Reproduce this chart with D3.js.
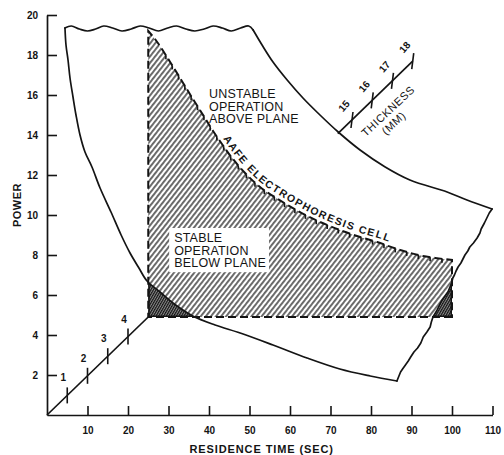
<!DOCTYPE html>
<html><head><meta charset="utf-8">
<script src="https://cdn.jsdelivr.net/npm/d3@7"></script>
<style>
html,body{margin:0;padding:0;background:#fff;}
svg{display:block;}
text{font-family:"Liberation Sans",Arial,Helvetica,sans-serif;fill:#141414;font-weight:bold;}
</style></head><body>
<svg id="chart" width="504" height="455"></svg>
<script>
// ---------- data ----------
const timeTicks = [10,20,30,40,50,60,70,80,90,100,110];
const powerTicks = [2,4,6,8,10,12,14,16,18,20];
const lowerThicknessTicks = [1,2,3,4];
const upperThicknessTicks = [15,16,17,18];
const xTitle = "RESIDENCE TIME (SEC)";
const yTitle = "POWER";
const unstableLabel = ["UNSTABLE","OPERATION","ABOVE PLANE"];
const stableLabel = ["STABLE","OPERATION","BELOW PLANE"];
const cellLabel = "AAFE ELECTROPHORESIS CELL";
const thicknessLabel = ["THICKNESS","(MM)"];

// envelope outline (time sec, power)
const topEdge = [[4.4,19.35],[6.0,19.45],[8.0,19.3],[10.0,19.2],[12.0,19.3],[14.0,19.45],[16.2,19.35],[18.5,19.2],[20.8,19.3],[23.0,19.45],[25.2,19.35],[27.5,19.2],[29.8,19.35],[32.0,19.45],[34.3,19.3],[36.5,19.2],[38.8,19.3],[41.0,19.45],[43.3,19.35],[45.5,19.2],[47.8,19.35],[49.8,19.45],[50.9,19.25]];
const upperCurve = [[50.9,19.25],[53.1,18.5],[55.8,17.65],[59.3,16.75],[63.2,15.85],[67.4,15.0],[71.9,14.15],[77.3,13.25],[83.5,12.4],[89.6,11.75],[98.8,11.15],[103.7,10.75],[109.9,10.3]];
const jaggedEdge = [[109.9,10.3],[109.2,10.1],[108.6,9.85],[108.0,9.6],[107.2,9.3],[106.9,9.1],[106.2,8.85],[105.3,8.6],[104.4,8.4],[103.9,8.2],[103.2,8.0],[102.7,7.8],[102.2,7.6],[101.5,7.4],[101.0,7.2],[100.6,7.0],[100.2,6.85],[99.9,6.6],[99.5,6.4],[99.0,6.15],[98.3,5.95],[97.4,5.7],[96.8,5.45],[96.2,5.2],[95.3,4.9],[94.9,4.65],[94.6,4.4],[93.8,4.15],[92.9,3.9],[92.3,3.6],[91.5,3.35],[90.6,3.15],[89.8,2.9],[89.2,2.7],[88.5,2.5],[87.8,2.3],[87.3,2.15],[86.9,1.95],[86.4,1.7]];
const lowerCurve = [[4.44,19.35],[4.69,18.5],[5.19,17.75],[5.68,16.85],[6.42,15.9],[7.16,15.0],[8.15,14.0],[9.38,13.15],[11.1,12.4],[13.1,11.35],[15.8,10.15],[18.3,9.0],[20.5,8.1],[22.7,7.35],[24.7,6.7],[27.9,6.15],[31.1,5.6],[36.0,4.95],[41.5,4.5],[47.7,4.1],[55.8,3.5],[64.2,2.85],[72.3,2.3],[79.8,1.95],[86.4,1.7]];

// operating plane
const planeLeft = 25, planeRight = 100, planeBase = 4.9;
const planeTop = [[25,19.2],[27.2,18.65],[30.4,17.65],[33.6,16.6],[36.5,15.65],[39.0,14.85],[41.0,14.2],[43.2,13.55],[45.7,12.85],[48.9,12.1],[52.6,11.4],[57.0,10.8],[62.0,10.2],[66.9,9.7],[72.3,9.25],[77.3,8.9],[81.5,8.65],[87.2,8.25],[92.8,7.95],[100,7.75]];

// oblique thickness scales: thickness -> (time, power)
const lowerThickTime = [0,5], lowerThickPower = [0,0.98], lowerThickRange = [0,5];
const upperThickTime = [75.3,5], upperThickPower = [14.75,0.98], upperThickRange = [14.3,18];

// ---------- scales ----------
const W = 504, H = 455;
const x = d3.scaleLinear().domain([0,110]).range([47,492.5]);
const y = d3.scaleLinear().domain([0,20]).range([415,15]);
const ink = "#141414";
const svg = d3.select("#chart");

const smooth = d3.line().x(d=>x(d[0])).y(d=>y(d[1])).curve(d3.curveCatmullRom.alpha(0.5));
const straight = d3.line().x(d=>x(d[0])).y(d=>y(d[1]));
const P = (t,p)=> x(t)+","+y(p);

const lowerPt = k => [lowerThickTime[0]+lowerThickTime[1]*k, lowerThickPower[0]+lowerThickPower[1]*k];
const upperPt = k => [upperThickTime[0]+upperThickTime[1]*(k-15), upperThickPower[0]+upperThickPower[1]*(k-15)];

// ---------- defs ----------
const defs = svg.append("defs");
const hatch = defs.append("pattern").attr("id","hatch").attr("patternUnits","userSpaceOnUse")
  .attr("width",4).attr("height",8).attr("patternTransform","rotate(38)");
hatch.append("rect").attr("x",0.4).attr("y",0).attr("width",1.15).attr("height",8).attr("fill","#000");
const dense = defs.append("pattern").attr("id","dense").attr("patternUnits","userSpaceOnUse")
  .attr("width",2.2).attr("height",8).attr("patternTransform","rotate(30)");
dense.append("rect").attr("width",2.2).attr("height",8).attr("fill","#8a8a8a");
dense.append("line").attr("x1",0.6).attr("y1",0).attr("x2",0.6).attr("y2",8).attr("stroke","#000").attr("stroke-width",1);

const planePath = "M"+P(planeRight,planeBase)+"L"+P(planeLeft,planeBase)+"L"+smooth(planeTop).slice(1)+"Z";
const lastLow = lowerCurve[lowerCurve.length-1];
const underLowerPath = smooth(lowerCurve)+"L"+P(lastLow[0],0)+"L"+P(0,0)+"L"+P(0,20)+"Z";
const rightJagPath = straight(jaggedEdge)+"L"+P(115,0)+"L"+P(115,12)+"Z";
defs.append("clipPath").attr("id","clipPlane").append("path").attr("d",planePath);
defs.append("clipPath").attr("id","clipUnder").append("path").attr("d",underLowerPath);
defs.append("clipPath").attr("id","clipRight").append("path").attr("d",rightJagPath);

// ---------- axes ----------
const xAxis = d3.axisBottom(x).tickValues(timeTicks).tickSizeInner(-9).tickSizeOuter(0).tickPadding(12);
const gx = svg.append("g").attr("transform",`translate(0,${y(0)})`).call(xAxis);
const yAxis = d3.axisLeft(y).tickValues(powerTicks).tickSizeInner(-10).tickSizeOuter(0).tickPadding(9);
const gy = svg.append("g").attr("transform",`translate(${x(0)},0)`).call(yAxis);
[gx,gy].forEach(g=>{
  g.select(".domain").attr("stroke",ink).attr("stroke-width",1.7);
  g.selectAll(".tick line").attr("stroke",ink).attr("stroke-width",1.6);
  g.selectAll(".tick text").attr("fill",ink).style("font-size","10px").style("font-family","Liberation Sans, Arial, sans-serif").style("font-weight","bold");
});
svg.append("text").attr("x",x(53)).attr("y",453).attr("text-anchor","middle")
  .style("font-size","11px").style("letter-spacing","0.9px").text(xTitle);
svg.append("text").attr("transform",`translate(21,${y(10.5)}) rotate(-90)`).attr("text-anchor","middle")
  .style("font-size","11px").style("letter-spacing","0.5px").text(yTitle);

// ---------- plane hatching ----------
svg.append("rect").attr("width",W).attr("height",H).attr("fill","url(#hatch)").attr("clip-path","url(#clipPlane)");
["clipUnder","clipRight"].forEach(id=>{
  const g = svg.append("g").attr("clip-path","url(#clipPlane)").append("g").attr("clip-path",`url(#${id})`);
  g.append("rect").attr("width",W).attr("height",H).attr("fill","#fff");
  g.append("rect").attr("width",W).attr("height",H).attr("fill","url(#dense)");
  g.append("path").attr("d",planePath).attr("fill","none").attr("stroke",ink).attr("stroke-width",3);
});

// ---------- envelope outline ----------
const outline = svg.append("g").attr("fill","none").attr("stroke",ink).attr("stroke-width",1.7).attr("stroke-linejoin","round").attr("stroke-linecap","round");
outline.append("path").attr("d",smooth(topEdge));
outline.append("path").attr("d",smooth(upperCurve));
outline.append("path").attr("d",straight(jaggedEdge));
outline.append("path").attr("d",smooth(lowerCurve));

// ---------- plane dashed outline ----------
svg.append("path").attr("d",planePath).attr("fill","none").attr("stroke",ink)
  .attr("stroke-width",2).attr("stroke-dasharray","8,4");
// small hooks at the dash ends of the curved top edge
const topNode = defs.append("path").attr("d",smooth(planeTop)).node();
const topLen = topNode.getTotalLength();
const hooks = svg.append("g").attr("stroke",ink).attr("stroke-width",1.6);
for (let s = 30; s < topLen - 6; s += 12) {
  const pt = topNode.getPointAtLength(s);
  hooks.append("line").attr("x1",pt.x).attr("y1",pt.y).attr("x2",pt.x).attr("y2",pt.y+4);
}

// ---------- stable label with white box ----------
const labelStyle = sel => sel.style("font-size","12.5px").style("font-weight","normal").style("letter-spacing","0.2px").style("-webkit-text-stroke","0.4px #141414");
const stableG = svg.append("g");
const stableBox = stableG.append("rect").attr("fill","#fff");
const stableT = stableG.append("text").attr("x",x(31.4)).attr("y",y(8.65)).call(labelStyle);
stableLabel.forEach((s,i)=>stableT.append("tspan").attr("x",x(31.4)).attr("dy",i?12.6:0).text(s));
const bb = stableT.node().getBBox();
stableBox.attr("x",bb.x-5).attr("y",bb.y-3).attr("width",bb.width+8).attr("height",bb.height+5);

const unT = svg.append("text").attr("x",x(40)).attr("y",y(15.85)).call(labelStyle);
unstableLabel.forEach((s,i)=>unT.append("tspan").attr("x",x(40)).attr("dy",i?12.6:0).text(s));

// ---------- curved cell label ----------
defs.append("path").attr("id","cellPath").attr("d",smooth(planeTop));
svg.append("text").style("font-size","10.5px").style("letter-spacing","1.5px").attr("dy",-4)
  .append("textPath").attr("href","#cellPath").attr("startOffset",131).text(cellLabel);

// ---------- thickness scales ----------
const th = svg.append("g").attr("stroke",ink).attr("fill","none");
const lowA = lowerPt(lowerThickRange[0]), lowB = lowerPt(lowerThickRange[1]);
th.append("line").attr("x1",x(lowA[0])).attr("y1",y(lowA[1])).attr("x2",x(lowB[0])).attr("y2",y(lowB[1])).attr("stroke-width",1.7);
lowerThicknessTicks.forEach(k=>{
  const p = lowerPt(k);
  th.append("line").attr("x1",x(p[0])).attr("y1",y(p[1])-8).attr("x2",x(p[0])).attr("y2",y(p[1])+8).attr("stroke-width",1.6);
  svg.append("text").attr("x",x(p[0])-4).attr("y",y(p[1])-14).attr("text-anchor","middle").style("font-size","10px").text(k);
});
const upA = upperPt(upperThickRange[0]), upB = upperPt(upperThickRange[1]);
th.append("line").attr("x1",x(upA[0])).attr("y1",y(upA[1])).attr("x2",x(upB[0])).attr("y2",y(upB[1])).attr("stroke-width",1.7);
upperThicknessTicks.forEach(k=>{
  const p = upperPt(k);
  th.append("line").attr("x1",x(p[0])+1).attr("y1",y(p[1])-8).attr("x2",x(p[0])-1).attr("y2",y(p[1])+8).attr("stroke-width",1.6);
  svg.append("text").attr("transform",`translate(${x(p[0])-8},${y(p[1])-14}) rotate(-50)`)
    .attr("text-anchor","middle").attr("dy","0.35em").style("font-size","10px").text(k);
});
svg.append("text").attr("transform",`translate(${x(84.2)},${y(15.2)}) rotate(-43)`).attr("text-anchor","middle").attr("dy","0.35em")
  .style("font-size","11px").style("letter-spacing","0.6px").style("font-weight","normal").style("-webkit-text-stroke","0.4px #141414").text(thicknessLabel[0]);
svg.append("text").attr("transform",`translate(${x(85.6)},${y(14.6)}) rotate(-43)`).attr("text-anchor","middle").attr("dy","0.35em")
  .style("font-size","11px").style("letter-spacing","0.6px").style("font-weight","normal").style("-webkit-text-stroke","0.4px #141414").text(thicknessLabel[1]);
</script>
</body></html>
